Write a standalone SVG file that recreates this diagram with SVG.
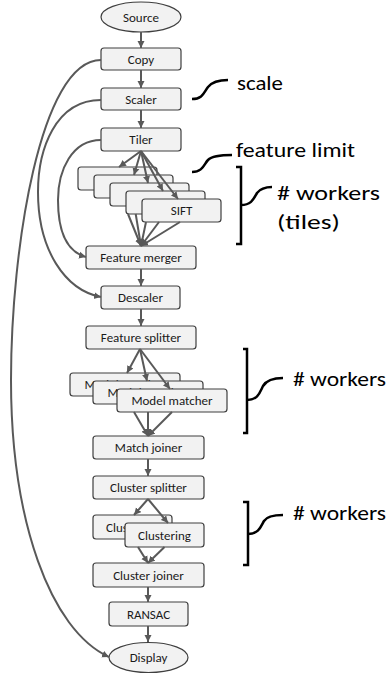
<svg xmlns="http://www.w3.org/2000/svg" width="390" height="674" viewBox="0 0 390 674">
<style>
.n{fill:#f2f2f2;stroke:#3f3f3f;stroke-width:1.2}
.t{font-family:Carlito,"Liberation Sans",Arial,sans-serif;font-size:13px;fill:#1a1a1a;text-anchor:middle}
.c{fill:none;stroke:#595959;stroke-width:2}
.a{fill:none;stroke:#000;stroke-width:2.5}
.l{font-family:Carlito,"Liberation Sans",Arial,sans-serif;fill:#000}
</style>
<defs>
<marker id="ah" markerUnits="userSpaceOnUse" markerWidth="8" markerHeight="8" refX="7" refY="4" orient="auto">
<path d="M0,0.5 L7,4 L0,7.5 Z" fill="#595959"/>
</marker>
</defs>
<rect width="390" height="674" fill="#fff"/>
<g id="nodes">
<g id="source"><ellipse class="n" cx="141" cy="17" rx="40" ry="15"/><text class="t" x="141" y="21.5">Source</text></g>
<g id="copy"><rect class="n" x="101" y="48" width="80" height="22" rx="3"/><text class="t" x="141" y="63.5">Copy</text></g>
<g id="scaler"><rect class="n" x="101" y="88" width="80" height="22" rx="3"/><text class="t" x="141" y="103.5">Scaler</text></g>
<g id="tiler"><rect class="n" x="101" y="128" width="80" height="23" rx="3"/><text class="t" x="141" y="144">Tiler</text></g>
<g id="sift1"><rect class="n" x="78" y="167" width="79" height="23" rx="3"/></g>
<g id="sift2"><rect class="n" x="94" y="175" width="79" height="23" rx="3"/></g>
<g id="sift3"><rect class="n" x="110" y="183" width="79" height="23" rx="3"/></g>
<g id="sift4"><rect class="n" x="126" y="191" width="79" height="23" rx="3"/><text class="t" x="165.5" y="207">SIFT</text></g>
<g id="sift5"><rect class="n" x="142" y="199" width="79" height="23" rx="3"/><text class="t" x="181.5" y="215">SIFT</text></g>
<g id="featuremerger"><rect class="n" x="86" y="246" width="110" height="23" rx="3"/><text class="t" x="141" y="262">Feature merger</text></g>
<g id="descaler"><rect class="n" x="101" y="286" width="79" height="23" rx="3"/><text class="t" x="140.5" y="302">Descaler</text></g>
<g id="featuresplitter"><rect class="n" x="86" y="326" width="110" height="23" rx="3"/><text class="t" x="141" y="342">Feature splitter</text></g>
<g id="mm1"><rect class="n" x="70" y="373" width="110" height="23" rx="3"/><text class="t" x="125" y="389">Model matcher</text></g>
<g id="mm2"><rect class="n" x="93" y="381" width="110" height="23" rx="3"/><text class="t" x="148" y="397">Model matcher</text></g>
<g id="mm3"><rect class="n" x="117" y="389" width="110" height="23" rx="3"/><text class="t" x="172" y="405">Model matcher</text></g>
<g id="matchjoiner"><rect class="n" x="93" y="436" width="111" height="23" rx="3"/><text class="t" x="148.5" y="452">Match joiner</text></g>
<g id="clustersplitter"><rect class="n" x="93" y="476" width="111" height="23" rx="3"/><text class="t" x="148.5" y="492">Cluster splitter</text></g>
<g id="clustering1"><rect class="n" x="93" y="515" width="79" height="24" rx="3"/><text class="t" x="132.5" y="531.5">Clustering</text></g>
<g id="clustering2"><rect class="n" x="125" y="523" width="79" height="24" rx="3"/><text class="t" x="164.5" y="539.5">Clustering</text></g>
<g id="clusterjoiner"><rect class="n" x="93" y="563" width="111" height="24" rx="3"/><text class="t" x="148.5" y="579.5">Cluster joiner</text></g>
<g id="ransac"><rect class="n" x="109" y="602" width="79" height="24" rx="3"/><text class="t" x="148.5" y="618.5">RANSAC</text></g>
<g id="display"><ellipse class="n" cx="148.5" cy="657.5" rx="39.5" ry="15"/><text class="t" x="148.5" y="662">Display</text></g>
</g>
<g id="connectors">
<path class="c" d="M141,32 V48" marker-end="url(#ah)"/>
<path class="c" d="M141,70 V88" marker-end="url(#ah)"/>
<path class="c" d="M141,110 V128" marker-end="url(#ah)"/>
<path class="c" d="M141,151 L119,167" marker-end="url(#ah)"/>
<path class="c" d="M141,151 L134,175" marker-end="url(#ah)"/>
<path class="c" d="M141,151 L148,183" marker-end="url(#ah)"/>
<path class="c" d="M141,151 L163,191" marker-end="url(#ah)"/>
<path class="c" d="M141,151 L178,199" marker-end="url(#ah)"/>
<path class="c" d="M128,214 L141,246" marker-end="url(#ah)"/>
<path class="c" d="M135.7,214 L141,246" marker-end="url(#ah)"/>
<path class="c" d="M146,222 L141,246" marker-end="url(#ah)"/>
<path class="c" d="M159,222 L141,246" marker-end="url(#ah)"/>
<path class="c" d="M180,222 L141,246" marker-end="url(#ah)"/>
<path class="c" d="M141,269 V286" marker-end="url(#ah)"/>
<path class="c" d="M141,309 V326" marker-end="url(#ah)"/>
<path class="c" d="M140,349 L127,373" marker-end="url(#ah)"/>
<path class="c" d="M140,349 L147,381" marker-end="url(#ah)"/>
<path class="c" d="M140,349 L170,389" marker-end="url(#ah)"/>
<path class="c" d="M134,412 L148,436" marker-end="url(#ah)"/>
<path class="c" d="M148,412 L148,436" marker-end="url(#ah)"/>
<path class="c" d="M172,412 L148,436" marker-end="url(#ah)"/>
<path class="c" d="M148,459 V476" marker-end="url(#ah)"/>
<path class="c" d="M148,499 L134,515" marker-end="url(#ah)"/>
<path class="c" d="M148,499 L168,523" marker-end="url(#ah)"/>
<path class="c" d="M138,547 L148,563" marker-end="url(#ah)"/>
<path class="c" d="M164.5,547 L148,563" marker-end="url(#ah)"/>
<path class="c" d="M148,587 V602" marker-end="url(#ah)"/>
<path class="c" d="M148,626 V642" marker-end="url(#ah)"/>
<path class="c" d="M101,60 C40,60 11,250 11,380 C11,520 50,630 109,657" marker-end="url(#ah)"/>
<path class="c" d="M101,100 C55,100 38,150 38,192 C38,250 65,290 101,297" marker-end="url(#ah)"/>
<path class="c" d="M101,140 C72,140 58,170 58,200 C58,235 68,252 86,257" marker-end="url(#ah)"/>
</g>
<g id="annotations">
<path class="a" d="M192,99 C203,99 204,92 208,87 C212,82 218,80 228,80"/>
<text class="l" x="237" y="90" font-size="21" textLength="46" lengthAdjust="spacingAndGlyphs">scale</text>
<path class="a" d="M192,172 C203,172 204,164 208,160 C212,156 220,155 232,155"/>
<text class="l" x="236" y="157" font-size="21" textLength="119" lengthAdjust="spacingAndGlyphs">feature limit</text>
<path class="a" d="M236,167 H241 V244 H236"/>
<path class="a" d="M241,205 C252,205 254,198 257,193 C260,189 265,187 272,187"/>
<text class="l" x="277" y="200" font-size="21" textLength="103" lengthAdjust="spacingAndGlyphs"># workers</text>
<text class="l" x="277" y="229" font-size="21" textLength="63" lengthAdjust="spacingAndGlyphs">(tiles)</text>
<path class="a" d="M243,349 H247 V433 H243"/>
<path class="a" d="M247,400 C258,400 260,392 263,386 C266,381 273,378 283,378"/>
<text class="l" x="293" y="386" font-size="20" textLength="93" lengthAdjust="spacingAndGlyphs"># workers</text>
<path class="a" d="M243,502 H248 V565 H243"/>
<path class="a" d="M248,534 C259,534 261,526 264,521 C267,516 274,515 283,515"/>
<text class="l" x="293" y="520" font-size="20" textLength="93" lengthAdjust="spacingAndGlyphs"># workers</text>
</g>
</svg>
